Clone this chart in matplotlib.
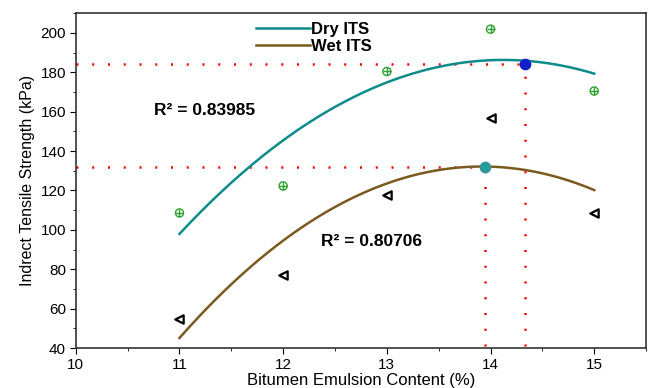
import numpy as np
import matplotlib
matplotlib.use("Agg")
import matplotlib.pyplot as plt
from matplotlib.ticker import MultipleLocator

plt.rcParams['font.family'] = ['Liberation Sans', 'DejaVu Sans']

# data
content = [11, 12, 13, 14, 15]
dry_its = [108.6, 122.3, 180.4, 201.9, 170.5]
wet_its = [54.7, 77.3, 117.8, 157.0, 108.7]
dry_opt = (14.33, 184.0)
wet_opt = (13.95, 132.0)
dry_r2 = "R² = 0.83985"
wet_r2 = "R² = 0.80706"
xlabel = "Bitumen Emulsion Content (%)"
ylabel = "Indrect Tensile Strength (kPa)"

teal = "#0E8C8C"
brown = "#7A5A1E"

fig = plt.figure(figsize=(6.48, 3.88), dpi=100)
ax = fig.add_axes([0.117, 0.103, 0.880, 0.863])

xs = np.linspace(11, 15, 200)
pd_ = np.polyfit(content, dry_its, 2)
pw_ = np.polyfit(content, wet_its, 2)
ax.plot(xs, np.polyval(pd_, xs), color=teal, lw=1.8, label="Dry ITS", zorder=3)
ax.plot(xs, np.polyval(pw_, xs), color=brown, lw=1.8, label="Wet ITS", zorder=3)

# red dotted guide lines
dot = dict(color="red", lw=1.8, linestyle=(0, (0.8, 5.5)), zorder=2)
ax.plot([10, dry_opt[0]], [dry_opt[1], dry_opt[1]], **dot)
ax.plot([dry_opt[0], dry_opt[0]], [41, dry_opt[1]], **dot)
ax.plot([10, wet_opt[0]], [wet_opt[1], wet_opt[1]], **dot)
ax.plot([wet_opt[0], wet_opt[0]], [41, wet_opt[1]], **dot)

# data points
ax.scatter(content, dry_its, s=34, facecolors="none", edgecolors="#2EA02E", linewidths=1.0, zorder=4)
ax.scatter(content, dry_its, s=34, marker="+", color="#2EA02E", linewidths=1.0, zorder=4)
ax.scatter(content, wet_its, s=36, marker="<", facecolors="white", edgecolors="black", linewidths=1.6, zorder=4)

# optimum markers
ax.scatter([dry_opt[0]], [dry_opt[1]], s=55, color="#1020C8", zorder=5)
ax.scatter([wet_opt[0]], [wet_opt[1]], s=55, color="#2A9A9A", zorder=5)

ax.text(10.75, 160.5, dry_r2, fontsize=12.5, fontweight="bold", va="center", ha="left")
ax.text(12.36, 94.2, wet_r2, fontsize=12.5, fontweight="bold", va="center", ha="left")

ax.set_xlim(10, 15.5)
ax.set_ylim(40, 210)
ax.xaxis.set_major_locator(MultipleLocator(1))
ax.xaxis.set_minor_locator(MultipleLocator(0.5))
ax.yaxis.set_major_locator(MultipleLocator(20))
ax.yaxis.set_minor_locator(MultipleLocator(10))
ax.set_yticks(range(40, 201, 20))
ax.tick_params(which="both", direction="out", top=False, right=False, labelsize=11)
ax.tick_params(which="major", length=4, pad=3)
ax.tick_params(which="minor", length=2.5)
for s in ax.spines.values():
    s.set_linewidth(1.2)
    s.set_color("#333333")

ax.set_xlabel(xlabel, fontsize=12, va="center")
ax.xaxis.set_label_coords(0.5, -0.097)
ax.set_ylabel(ylabel, fontsize=11.5, labelpad=4)

leg = ax.legend(loc="upper left", bbox_to_anchor=(0.305, 0.995), frameon=False,
                prop=dict(size=12, weight="bold"), handlelength=3.2,
                handletextpad=0.05, labelspacing=0.15, borderaxespad=0)

fig.savefig("out.png", dpi=100)
